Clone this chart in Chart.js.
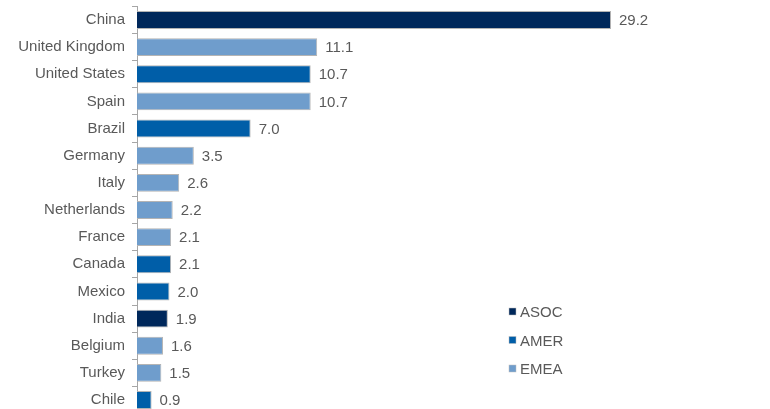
<!DOCTYPE html>
<html>
<head>
<meta charset="utf-8">
<script src="https://cdn.jsdelivr.net/npm/chart.js@4"></script>
<style>
  html, body { margin: 0; padding: 0; background: #fff; overflow: hidden; }
  #wrap { width: 770px; height: 416px; }
</style>
</head>
<body>
<div id="wrap"><canvas id="chart" width="770" height="416"></canvas></div>
<script>
// Countries, their values and regions
const countries = ['China', 'United Kingdom', 'United States', 'Spain', 'Brazil', 'Germany', 'Italy',
  'Netherlands', 'France', 'Canada', 'Mexico', 'India', 'Belgium', 'Turkey', 'Chile'];
const values = [29.2, 11.1, 10.7, 10.7, 7.0, 3.5, 2.6, 2.2, 2.1, 2.1, 2.0, 1.9, 1.6, 1.5, 0.9];
const regions = ['ASOC', 'EMEA', 'AMER', 'EMEA', 'AMER', 'EMEA', 'EMEA', 'EMEA', 'EMEA', 'AMER',
  'AMER', 'ASOC', 'EMEA', 'EMEA', 'AMER'];
const legendRegions = ['ASOC', 'AMER', 'EMEA'];

const regionColors = { ASOC: '#00285b', AMER: '#005ea8', EMEA: '#6f9dcc' };
const textColor = '#595959';
const fontFamily = '"Liberation Sans", Arial, sans-serif';

// Value labels right of each bar
const valueLabels = {
  id: 'valueLabels',
  afterDatasetsDraw(chart) {
    const ctx = chart.ctx;
    const meta = chart.getDatasetMeta(0);
    ctx.save();
    ctx.font = '15px ' + fontFamily;
    ctx.fillStyle = textColor;
    ctx.textAlign = 'left';
    ctx.textBaseline = 'middle';
    meta.data.forEach((bar, i) => {
      ctx.fillText(values[i].toFixed(1), bar.x + 8, bar.y + 1);
    });
    ctx.restore();
  }
};

// Small vertical legend at the lower right
const regionLegend = {
  id: 'regionLegend',
  afterDraw(chart) {
    const ctx = chart.ctx;
    ctx.save();
    ctx.font = '15px ' + fontFamily;
    ctx.textBaseline = 'middle';
    legendRegions.forEach((r, i) => {
      const y = 312 + i * 28.5;
      ctx.fillStyle = regionColors[r];
      ctx.fillRect(509, y - 4, 7, 7);
      ctx.strokeStyle = '#bfbfbf';
      ctx.lineWidth = 0.5;
      ctx.strokeRect(509, y - 4, 7, 7);
      ctx.fillStyle = textColor;
      ctx.fillText(r, 520, y + 1);
    });
    ctx.restore();
  }
};

new Chart(document.getElementById('chart'), {
  type: 'bar',
  data: {
    labels: countries,
    datasets: [{
      data: values,
      backgroundColor: regions.map(r => regionColors[r]),
      borderColor: '#b4b4b4',
      borderWidth: 1,
      borderSkipped: 'start',
      categoryPercentage: 1,
      barPercentage: 0.66
    }]
  },
  options: {
    indexAxis: 'y',
    responsive: false,
    animation: false,
    layout: { padding: { top: 6.4, right: 146, bottom: 2.4, left: 0 } },
    plugins: {
      legend: { display: false },
      tooltip: { enabled: false }
    },
    scales: {
      x: {
        display: false,
        min: 0,
        max: 30
      },
      y: {
        afterFit(scale) {
          scale.width = 137;
          scale.paddingTop = 0;
          scale.paddingBottom = 0;
        },
        border: { color: '#a6a6a6', width: 1 },
        grid: {
          offset: true,
          drawOnChartArea: false,
          drawTicks: true,
          tickLength: 5,
          color: '#a6a6a6'
        },
        ticks: {
          color: textColor,
          padding: 7,
          font: { family: fontFamily, size: 15 }
        }
      }
    }
  },
  plugins: [valueLabels, regionLegend]
});
</script>
</body>
</html>
